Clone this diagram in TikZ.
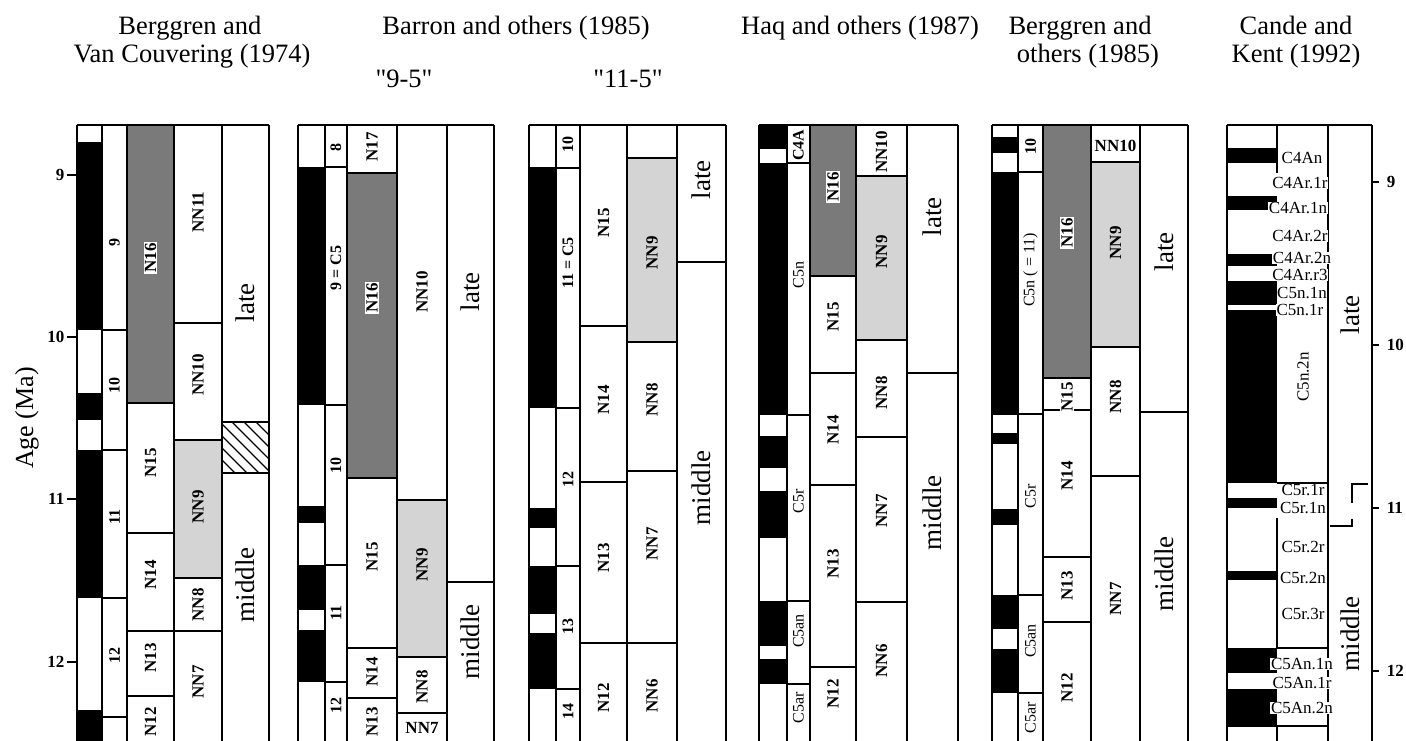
\documentclass[tikz,border=0pt]{standalone}
\usepackage{fontspec}
\setmainfont{Liberation Serif}
\newcommand\nsz{\fontsize{17}{17}\selectfont\bfseries}
\newcommand\zsz{\fontsize{16}{16}\selectfont}
\begin{document}
\begin{tikzpicture}[x=1pt,y=-1pt,line width=1.5pt,
        topline/.style={line width=2.6pt},
        darkzone/.style={fill=black!52},
        lightzone/.style={fill=black!17},
        ttl/.style={font=\fontsize{26.5}{28}\selectfont,anchor=base,inner sep=0pt},
        nlab/.style={font=\nsz,rotate=90,inner sep=1pt},
        zlab/.style={font=\zsz\bfseries,rotate=90,inner sep=1pt},
        clab/.style={font=\zsz,rotate=90,inner sep=1pt},
        elab/.style={font=\fontsize{27}{27}\selectfont,rotate=90,inner sep=1pt},
        klab/.style={font=\fontsize{17}{17}\selectfont,fill=white,inner sep=0.6pt},
        ticklab/.style={font=\fontsize{17}{17}\selectfont\bfseries,inner sep=1pt}]%
        \useasboundingbox (0,0) rectangle (1406,741); %%
        % titles
        \node[ttl] (t1a) at (190,35) {Berggren and}; %%
        \node[ttl] (t1b) at (192,63) {Van Couvering (1974)}; %%
        \node[ttl] (t2) at (516,35) {Barron and others (1985)}; %%
        \node[ttl] (t2a) at (404,88) {\textquotedbl 9-5\textquotedbl}; %%
        \node[ttl] (t2b) at (628,88) {\textquotedbl 11-5\textquotedbl}; %%
        \node[ttl] (t3) at (860,35) {Haq and others (1987)}; %%
        \node[ttl] (t4a) at (1080,35) {Berggren and}; %%
        \node[ttl] (t4b) at (1088,63) {others (1985)}; %%
        \node[ttl] (t5a) at (1296,35) {Cande and}; %%
        \node[ttl] (t5b) at (1296,63) {Kent (1992)}; %%
        % age axes
        \node[rotate=90,font=\fontsize{26}{26}\selectfont] (age) at (27,418) {Age (Ma)}; %%
        \foreach \y/\t in {175/9,337/10,499/11,662/12} {
          \draw (67,\y) -- (77,\y); %%
          \node[ticklab,anchor=east] (ax\t) at (66,\y) {\t}; }
        \foreach \y/\t in {182/9,345/10,508/11,671/12} {
          \draw (1372,\y) -- (1379,\y); %%
          \node[ticklab,anchor=west] (cx\t) at (1385,\y) {\t}; }
        %
        % Berggren and Van Couvering (1974)
        \fill[darkzone] (127,125) rectangle (174,403); %%
        \fill[lightzone] (174,440) rectangle (222,578); %%
        \foreach \a/\b in {142/330,393/420,450/598,710/741} \fill (77,\a) rectangle (102,\b); %%
        \begin{scope}
        \clip (222,422) rectangle (269,473); %%
        \foreach \k in {0,...,9} \draw[line width=1.1pt] (222+12*\k-50,422) -- ++(60,60); %%
        \end{scope}
        \foreach \x in {77,102,127,174,222,269} \draw (\x,125) -- (\x,741); %%
        \draw[topline] (77,125) -- (269,125); %%
        \foreach \y in {330,450,598,717} \draw (102,\y) -- (127,\y); %%
        \foreach \y in {403,533,631,696} \draw (127,\y) -- (174,\y); %%
        \foreach \y in {323,440,578,631} \draw (174,\y) -- (222,\y); %%
        \foreach \y in {422,473} \draw (222,\y) -- (269,\y); %%
        \node[zlab] (bv9) at (114.5,242) {9}; %%
        \node[zlab] (bv10) at (114.5,385) {10}; %%
        \node[zlab] (bv11) at (114.5,517) {11}; %%
        \node[zlab] (bv12) at (114.5,655) {12}; %%
        \node[nlab,fill=white] (bvn16) at (150.5,258) {N16}; %%
        \node[nlab] (bvn15) at (150.5,463) {N15}; %%
        \node[nlab] (bvn14) at (150.5,575) {N14}; %%
        \node[nlab] (bvn13) at (150.5,658) {N13}; %%
        \node[nlab] (bvn12) at (150.5,722) {N12}; %%
        \node[nlab] (bvnn11) at (198,212) {NN11}; %%
        \node[nlab] (bvnn10) at (198,375) {NN10}; %%
        \node[nlab] (bvnn9) at (198,507) {NN9}; %%
        \node[nlab] (bvnn8) at (198,605) {NN8}; %%
        \node[nlab] (bvnn7) at (198,682) {NN7}; %%
        \node[elab] (bvlate) at (245.5,303) {late}; %%
        \node[elab] (bvmid) at (245.5,585) {middle}; %%
        %
        % Barron and others (1985), "9-5"
        \fill[darkzone] (347,173) rectangle (397,478); %%
        \fill[lightzone] (397,500) rectangle (447,657); %%
        \foreach \a/\b in {167/405,506/523,565/610,630/682} \fill (298,\a) rectangle (325,\b); %%
        \foreach \x in {298,325,347,397,447,494} \draw (\x,125) -- (\x,741); %%
        \draw[topline] (298,125) -- (494,125); %%
        \foreach \y in {167,405,565,682} \draw (325,\y) -- (347,\y); %%
        \foreach \y in {173,478,648,698} \draw (347,\y) -- (397,\y); %%
        \foreach \y in {500,657,713} \draw (397,\y) -- (447,\y); %%
        \draw (447,582) -- (494,582); %%
        \node[zlab] (ba8) at (336,148) {8}; %%
        \node[zlab] (ba9) at (336,268) {9 = C5}; %%
        \node[zlab] (ba10) at (336,465) {10}; %%
        \node[zlab] (ba11) at (336,613) {11}; %%
        \node[zlab] (ba12) at (336,705) {12}; %%
        \node[nlab] (ban17) at (372,147) {N17}; %%
        \node[nlab,fill=white] (ban16) at (372,298) {N16}; %%
        \node[nlab] (ban15) at (372,557) {N15}; %%
        \node[nlab] (ban14) at (372,672) {N14}; %%
        \node[nlab] (ban13) at (372,722) {N13}; %%
        \node[nlab] (bann10) at (422,292) {NN10}; %%
        \node[nlab] (bann9) at (422,565) {NN9}; %%
        \node[nlab] (bann8) at (422,687) {NN8}; %%
        \node[font=\nsz,inner sep=1pt] (bann7) at (422,728) {NN7}; %%
        \node[elab] (balate) at (470.5,292) {late}; %%
        \node[elab] (bamid) at (470.5,642) {middle}; %%
        %
        % Barron and others (1985), "11-5"
        \fill[lightzone] (627,158) rectangle (677,342); %%
        \foreach \a/\b in {167/408,508/528,566/614,633/689} \fill (529,\a) rectangle (556,\b); %%
        \foreach \x in {529,556,580,627,677,726} \draw (\x,125) -- (\x,741); %%
        \draw[topline] (529,125) -- (726,125); %%
        \foreach \y in {168,408,566,689} \draw (556,\y) -- (580,\y); %%
        \foreach \y in {326,482,643} \draw (580,\y) -- (627,\y); %%
        \foreach \y in {158,342,471,643} \draw (627,\y) -- (677,\y); %%
        \draw (677,262) -- (726,262); %%
        \node[zlab] (bb10) at (568,145) {10}; %%
        \node[zlab] (bb11) at (568,263) {11 = C5}; %%
        \node[zlab] (bb12) at (568,479) {12}; %%
        \node[zlab] (bb13) at (568,626) {13}; %%
        \node[zlab] (bb14) at (568,711) {14}; %%
        \node[nlab] (bbn15) at (603.5,223) {N15}; %%
        \node[nlab] (bbn14) at (603.5,400) {N14}; %%
        \node[nlab] (bbn13) at (603.5,558) {N13}; %%
        \node[nlab] (bbn12) at (603.5,698) {N12}; %%
        \node[nlab] (bbnn9) at (652,253) {NN9}; %%
        \node[nlab] (bbnn8) at (652,400) {NN8}; %%
        \node[nlab] (bbnn7) at (652,544) {NN7}; %%
        \node[nlab] (bbnn6) at (652,696) {NN6}; %%
        \node[elab] (bblate) at (701.5,180) {late}; %%
        \node[elab] (bbmid) at (701.5,488) {middle}; %%
        %
        % Haq and others (1987)
        \fill[darkzone] (810,125) rectangle (856,276); %%
        \fill[lightzone] (856,176) rectangle (907,340); %%
        \foreach \a/\b in {125/149,163/415,436/468,491/538,601/646,659/684} \fill (759,\a) rectangle (787,\b); %%
        \foreach \x in {759,787,810,856,907,958} \draw (\x,125) -- (\x,741); %%
        \draw[topline] (759,125) -- (958,125); %%
        \foreach \y in {163,415,601,684} \draw (787,\y) -- (810,\y); %%
        \foreach \y in {276,373,485,667} \draw (810,\y) -- (856,\y); %%
        \foreach \y in {176,340,437,602} \draw (856,\y) -- (907,\y); %%
        \draw (907,373) -- (958,373); %%
        \node[zlab] (hq4a) at (798.5,145) {C4A}; %%
        \node[clab] (hq5n) at (798.5,275) {C5n}; %%
        \node[clab] (hq5r) at (798.5,501) {C5r}; %%
        \node[clab] (hq5an) at (798.5,631) {C5an}; %%
        \node[clab] (hq5ar) at (798.5,708) {C5ar}; %%
        \node[nlab,fill=white] (hqn16) at (833,187) {N16}; %%
        \node[nlab] (hqn15) at (833,317) {N15}; %%
        \node[nlab] (hqn14) at (833,430) {N14}; %%
        \node[nlab] (hqn13) at (833,564) {N13}; %%
        \node[nlab] (hqn12) at (833,694) {N12}; %%
        \node[nlab] (hqnn10) at (881.5,152) {NN10}; %%
        \node[nlab] (hqnn9) at (881.5,252) {NN9}; %%
        \node[nlab] (hqnn8) at (881.5,393) {NN8}; %%
        \node[nlab] (hqnn7) at (881.5,511) {NN7}; %%
        \node[nlab] (hqnn6) at (881.5,661) {NN6}; %%
        \node[elab] (hqlate) at (932.5,217) {late}; %%
        \node[elab] (hqmid) at (932.5,513) {middle}; %%
        %
        % Berggren and others (1985)
        \fill[darkzone] (1043,125) rectangle (1091,378); %%
        \fill[lightzone] (1091,162) rectangle (1140,347); %%
        \foreach \a/\b in {137/153,172/415,433/444,509/525,595/629,649/693} \fill (992,\a) rectangle (1018,\b); %%
        \foreach \x in {992,1018,1043,1091,1140,1188} \draw (\x,125) -- (\x,741); %%
        \draw[topline] (992,125) -- (1188,125); %%
        \foreach \y in {172,414,595,693} \draw (1018,\y) -- (1043,\y); %%
        \foreach \y in {378,410,557,622} \draw (1043,\y) -- (1091,\y); %%
        \foreach \y in {162,347,476} \draw (1091,\y) -- (1140,\y); %%
        \draw (1140,412) -- (1188,412); %%
        \node[zlab] (bg10) at (1030.5,147) {10}; %%
        \node[clab] (bg5n) at (1030.5,270) {C5n ( = 11)}; %%
        \node[clab] (bg5r) at (1030.5,496) {C5r}; %%
        \node[clab] (bg5an) at (1030.5,641) {C5an}; %%
        \node[clab] (bg5ar) at (1030.5,718) {C5ar}; %%
        \node[nlab,fill=white] (bgn16) at (1067,233) {N16}; %%
        \node[nlab,fill=white] (bgn15) at (1067,397) {N15}; %%
        \node[nlab] (bgn14) at (1067,476) {N14}; %%
        \node[nlab] (bgn13) at (1067,586) {N13}; %%
        \node[nlab] (bgn12) at (1067,688) {N12}; %%
        \node[font=\nsz,inner sep=1pt] (bgnn10) at (1115.5,146) {NN10}; %%
        \node[nlab] (bgnn9) at (1115.5,243) {NN9}; %%
        \node[nlab] (bgnn8) at (1115.5,397) {NN8}; %%
        \node[nlab] (bgnn7) at (1115.5,599) {NN7}; %%
        \node[elab] (bglate) at (1164,252) {late}; %%
        \node[elab] (bgmid) at (1164,574) {middle}; %%
        %
        % Cande and Kent (1992)
        \foreach \a/\b in {148/163,196/210,254/266,281/305,310/483,498/508,571/580,648/673,689/726} \fill (1227,\a) rectangle (1277,\b); %%
        \foreach \x in {1227,1328,1372} \draw (\x,125) -- (\x,741); %%
        \draw[topline] (1227,125) -- (1372,125); %%
        \draw (1277,125) -- (1277,173); %%
        \draw (1277,518) -- (1277,648); %%
        \draw (1277,726) -- (1277,741); %%
        \draw (1277,483) -- (1328,483); %%
        \draw (1277,648) -- (1328,648); %%
        \draw (1227,726) -- (1328,726); %%
        \draw (1330,526) -- (1352,526) -- (1352,519); %%
        \draw (1352,503) -- (1352,484) -- (1368,484); %%
        \begin{scope}
        \tikzstyle{every node}=[klab] %%
        \node (ck4an) at (1302,158) {C4An}; %%
        \node (ck4ar1r) at (1300,183) {C4Ar.1r}; %%
        \node (ck4ar1n) at (1298,208) {C4Ar.1n}; %%
        \node (ck4ar2r) at (1300,236) {C4Ar.2r}; %%
        \node (ck4ar2n) at (1302,258) {C4Ar.2n}; %%
        \node (ck4arr3) at (1300,275) {C4Ar.r3}; %%
        \node (ck5n1n) at (1302,293) {C5n.1n}; %%
        \node (ck5n1r) at (1300,310) {C5n.1r}; %%
        \node[rotate=90,fill=none] (ck5n2n) at (1303,377) {C5n.2n}; %%
        \node[inner sep=0pt] (ck5r1r) at (1303,490) {C5r.1r}; %%
        \node[inner sep=0pt] (ck5r1n) at (1303,508) {C5r.1n}; %%
        \node (ck5r2r) at (1303,547) {C5r.2r}; %%
        \node (ck5r2n) at (1303,578) {C5r.2n}; %%
        \node (ck5r3r) at (1303,614) {C5r.3r}; %%
        \node (ck5an1n) at (1302,664) {C5An.1n}; %%
        \node (ck5an1r) at (1302,683) {C5An.1r}; %%
        \node (ck5an2n) at (1302,708) {C5An.2n}; %%
        \end{scope}
        \node[elab] (cklate) at (1350,315) {late}; %%
        \node[elab] (ckmid) at (1350,634) {middle}; %%
        \end{tikzpicture}
\end{document}
